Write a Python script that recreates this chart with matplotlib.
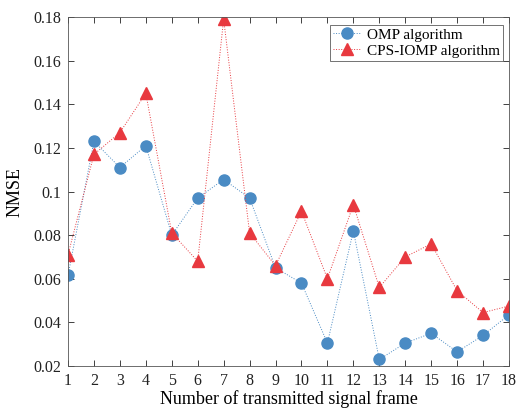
import numpy as np
import matplotlib
matplotlib.use('Agg')
import matplotlib.pyplot as plt
from matplotlib.ticker import FuncFormatter

frames = np.arange(1, 19)
omp = [0.0615, 0.123, 0.111, 0.121, 0.080, 0.097, 0.1055, 0.097, 0.065,
       0.058, 0.0305, 0.082, 0.023, 0.0305, 0.035, 0.0265, 0.034, 0.0435]
cps = [0.071, 0.117, 0.127, 0.145, 0.081, 0.068, 0.179, 0.081, 0.066,
       0.091, 0.060, 0.094, 0.056, 0.070, 0.076, 0.0545, 0.0445, 0.0475]

plt.rcParams['font.family'] = 'Liberation Serif'
plt.rcParams['font.size'] = 12

fig = plt.figure(figsize=(5.16, 4.12), dpi=100)
ax = fig.add_axes([68/516, 1 - 366/412, (509-68)/516, (366-17)/412])

ax.plot(frames, omp, 'o:', color='#4a8bc4', ms=8, lw=0.7, label='OMP algorithm')
ax.plot(frames, cps, '^:', color='#e8393f', ms=8.5, lw=0.7, label='CPS-IOMP algorithm')

ax.set_xlim(1, 18)
ax.set_ylim(0.02, 0.18)
ax.set_xticks(frames)
ax.set_yticks(np.arange(0.02, 0.181, 0.02))
ax.yaxis.set_major_formatter(FuncFormatter(lambda v, p: '%g' % round(v, 2)))
ax.tick_params(direction='in', top=True, right=True, length=4, width=0.6,
               colors='#222222', labelsize=11.5, pad=5)
for s in ax.spines.values():
    s.set_linewidth(0.6)
    s.set_color('#555555')

ax.set_xlabel('Number of transmitted signal frame', fontsize=13, labelpad=1)
ax.set_ylabel('NMSE', fontsize=13, labelpad=7)
leg = ax.legend(loc='upper right', bbox_to_anchor=((503-68)/441, (366-25)/349),
                fontsize=11, fancybox=False, edgecolor='#333333',
                handlelength=1.8, handletextpad=0.4, borderpad=0.2,
                labelspacing=0.15, borderaxespad=0)
leg.get_frame().set_linewidth(0.6)

fig.savefig('out.png', dpi=100)
